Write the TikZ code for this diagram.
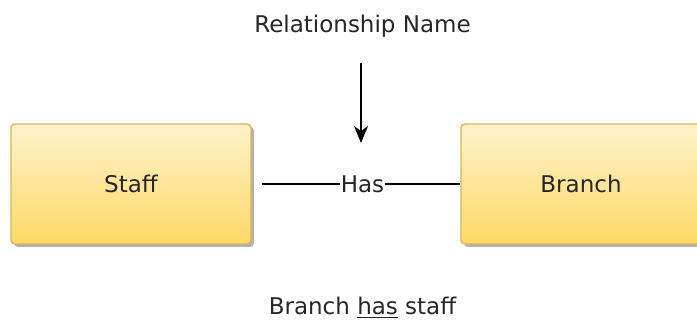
\documentclass[tikz,border=0pt]{standalone}
\usepackage{fontspec}
\setmainfont{DejaVu Sans}
\usetikzlibrary{arrows.meta,shadows}
\definecolor{boxtop}{HTML}{FFF2CC}
\definecolor{boxbot}{HTML}{FFD966}
\definecolor{boxline}{HTML}{D6B656}
\definecolor{ink}{HTML}{262626}
\begin{document}
\begin{tikzpicture}[x=1pt,y=-1pt,
  every node/.style={font=\fontsize{23}{27}\selectfont, text=ink},
  entity/.style={draw=boxline, line width=1.4pt, rounded corners=4pt,
    top color=boxtop, bottom color=boxbot,
    minimum width=240pt, minimum height=120pt, inner sep=0pt,
    drop shadow={shadow xshift=3pt, shadow yshift=-3pt, fill=black, opacity=0.3}},
  label/.style={inner sep=0.5pt},
  link/.style={draw=black, line width=1.2pt},
  pointer/.style={draw=black, line width=1.8pt,
    -{Stealth[length=17pt,width=14pt,inset=5pt]}}]
  \useasboundingbox (0,0) rectangle (697,320);
  % entities
  \node[entity] (staff)  at (131,184) {};
  \node[entity] (branch) at (581,184) {};
  \node[anchor=base] at (131,193) {Staff};
  \node[anchor=base] at (581,193) {Branch};
  % relationship line with its name
  \node[label, anchor=base] (has) at (362.5,193) {Has};
  \coordinate (lineStart) at ([xshift=10pt]staff.east);
  \draw[link] (lineStart) -- (lineStart -| has.west);
  \draw[link] (has.east |- branch.west) -- (branch.west);
  % caption and pointer
  \node[anchor=base] (relname) at (362.5,33) {Relationship Name};
  \coordinate (ptrTop) at (361,63);
  \coordinate (ptrTip) at (361,143);
  \draw[pointer] (ptrTop) -- (ptrTip);
  % example sentence
  \node[anchor=base] (example) at (362.5,315) {Branch \underline{has} staff};
\end{tikzpicture}
\end{document}
